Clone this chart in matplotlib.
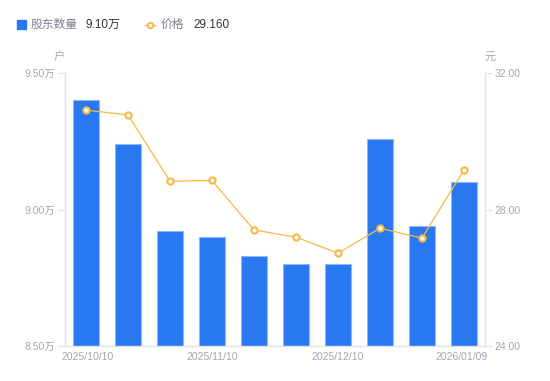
import matplotlib
matplotlib.use("Agg")
import matplotlib.pyplot as plt
import matplotlib.transforms as mtransforms
from matplotlib.lines import Line2D
from matplotlib.patches import Rectangle

plt.rcParams['font.family'] = ['Liberation Sans', 'Noto Sans CJK SC', 'DejaVu Sans']

# data
dates = ["2025/10/10", "2025/10/20", "2025/10/31", "2025/11/10", "2025/11/20",
         "2025/11/28", "2025/12/10", "2025/12/19", "2025/12/31", "2026/01/09"]
holders = [9.40, 9.24, 8.92, 8.90, 8.83, 8.80, 8.80, 9.26, 8.94, 9.10]   # 万户
price = [30.91, 30.77, 28.83, 28.85, 27.40, 27.19, 26.72, 27.45, 27.16, 29.16]
left_ticks = [8.5, 9.0, 9.5]
right_ticks = [24, 28, 32]

blue = "#2878f2"
orange = "#f7b844"
grey_txt = "#a3a6b4"
axis_col = "#e3e4e8"

fig = plt.figure(figsize=(5.5, 3.81), dpi=100)
ax = fig.add_axes([65 / 550, 1 - 346 / 381, 420 / 550, 273 / 381])
ax2 = ax.twinx()

x = list(range(len(dates)))
ax.bar(x, holders, width=0.6, color=blue, edgecolor="#8fb6f7", linewidth=0.8, zorder=2)
ax.set_yticks(left_ticks)
ax.set_yticklabels([f"{v:.2f}万" for v in left_ticks])

ax2.plot(x, price, color=orange, linewidth=0.9, marker="o", markersize=4.5,
         markerfacecolor="white", markeredgecolor=orange, markeredgewidth=1.5, zorder=3)
ax2.set_ylim(24, 32)
ax2.set_yticks(right_ticks)
ax2.set_yticklabels([f"{v:.2f}" for v in right_ticks])

# only every third date is labelled; the end labels hug the plot edges
ax.set_xticks([-0.5, 3, 6, 9.5])
ax.set_xticklabels(dates[::3])
ax.tick_params(axis="x", length=0, pad=4, labelsize=7.5, colors=grey_txt)
ax.set_xlim(-0.5, len(dates) - 0.5)
ax.set_ylim(8.5, 9.5)
labs = ax.get_xticklabels()
labs[0].set_horizontalalignment("left")
labs[0].set_transform(labs[0].get_transform() + mtransforms.ScaledTranslation(-4 / 100, 0, fig.dpi_scale_trans))
labs[-1].set_horizontalalignment("right")
labs[-1].set_transform(labs[-1].get_transform() + mtransforms.ScaledTranslation(3 / 100, 0, fig.dpi_scale_trans))

ax.tick_params(axis="y", length=5, width=0.8, color=axis_col, labelsize=7.5, labelcolor=grey_txt, pad=2)
ax2.tick_params(axis="y", length=5, width=0.8, color=axis_col, labelsize=7.5, labelcolor=grey_txt, pad=2)

for a in (ax, ax2):
    for s in a.spines.values():
        s.set_visible(False)
for s in (ax.spines["left"], ax.spines["bottom"], ax2.spines["right"]):
    s.set_visible(True)
    s.set_color(axis_col)
    s.set_linewidth(1)

# axis units
fig.text(59 / 550, 1 - 57 / 381, "户", fontsize=8, color=grey_txt, ha="center", va="center")
fig.text(490 / 550, 1 - 57 / 381, "元", fontsize=8, color=grey_txt, ha="center", va="center")

# legend
fig.patches.append(Rectangle((17 / 550, 1 - 29 / 381), 9 / 550, 9 / 381,
                             transform=fig.transFigure, color=blue))
fig.text(31 / 550, 1 - 24.5 / 381, "股东数量", fontsize=8.5, color="#7d8190", va="center")
fig.text(85 / 550, 1 - 24.5 / 381, f"{holders[-1]:.2f}万", fontsize=8.5, color="#333333", va="center")
fig.lines.append(Line2D([145 / 550, 155 / 550], [1 - 24.5 / 381] * 2, transform=fig.transFigure,
                        color=orange, linewidth=1))
fig.lines.append(Line2D([150 / 550], [1 - 24.5 / 381], transform=fig.transFigure, marker="o",
                        markersize=4, markerfacecolor="white", markeredgecolor=orange, markeredgewidth=1.4))
fig.text(161 / 550, 1 - 24.5 / 381, "价格", fontsize=8.5, color="#7d8190", va="center")
fig.text(193 / 550, 1 - 24.5 / 381, f"{price[-1]:.3f}", fontsize=8.5, color="#333333", va="center")

fig.savefig("out.png", dpi=100)
